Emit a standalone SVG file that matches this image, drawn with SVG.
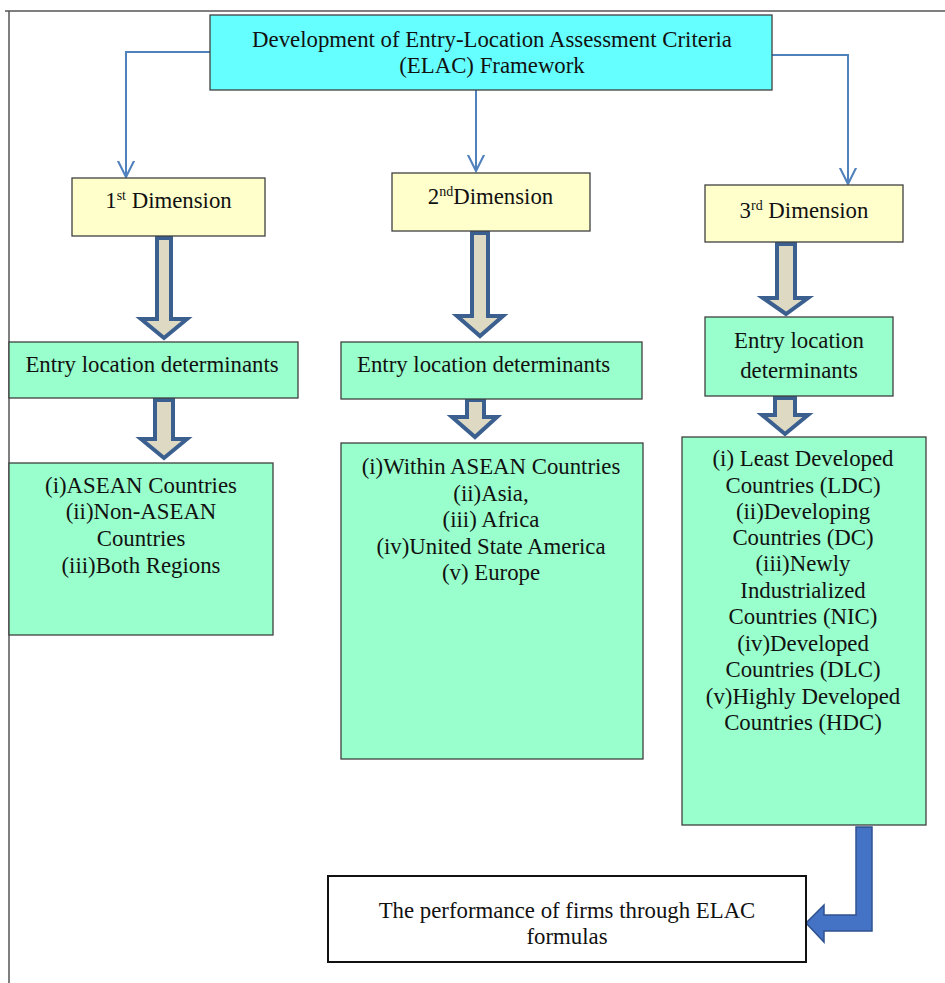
<svg xmlns="http://www.w3.org/2000/svg" width="945" height="983" viewBox="0 0 945 983">
<defs>
<marker id="open" viewBox="0 0 12 12" refX="11" refY="6" markerWidth="18" markerHeight="18" markerUnits="userSpaceOnUse" orient="auto">
<path d="M0,0.5 L11,6 L0,11.5" fill="none" stroke="#4F81BD" stroke-width="1.4"/>
</marker>
</defs>
<style>
text{font-family:"Liberation Serif","Times New Roman",serif;font-size:22.8px;fill:#111;text-anchor:middle}
.box{stroke:#404040;stroke-width:1.3}
.top{fill:#66FFFF}
.dim{fill:#FFFFCC}
.grn{fill:#99FFCC}
.blk{fill:#DDD9C3;stroke:#3B6090;stroke-width:4;stroke-linejoin:miter}
.conn{fill:none;stroke:#4F81BD;stroke-width:2}
.sup{font-size:14px}
</style>
<rect width="945" height="983" fill="#fff"/>
<g id="frame">
<line x1="5" y1="11" x2="945" y2="11" stroke="#555" stroke-width="1.5"/>
<line x1="9" y1="11" x2="9" y2="983" stroke="#555" stroke-width="1.5"/>
</g>
<g id="connectors">
<path class="conn" d="M210,52 H126 V177" marker-end="url(#open)"/>
<path class="conn" d="M476,90 V171" marker-end="url(#open)"/>
<path class="conn" d="M772,55 H848 V184" marker-end="url(#open)"/>
<path class="blk" d="M157,238 H171 V319 H187 L164,338 L141,319 H157 Z"/>
<path class="blk" d="M472,233 H488 V316 H503 L480,336 L457,316 H472 Z"/>
<path class="blk" d="M777,244 H795 V298 H808 L786,314 L763,298 H777 Z"/>
<path class="blk" d="M155,400 H173 V439 H187 L164,458 L141,439 H155 Z"/>
<path class="blk" d="M467,400 H484 V417 H497 L475,437 L452,417 H467 Z"/>
<path class="blk" d="M775,398 H795 V415 H808 L785,434 L762,415 H775 Z"/>
<path d="M856,827 H872 V931 H824 V942 L806,923 L824,905 V915 H856 Z" fill="#4472C4" stroke="#2F528F" stroke-width="1.5"/>
</g>
<g id="title">
<rect class="box top" x="210" y="15" width="562" height="75"/>
<text x="492" y="47">Development of Entry-Location Assessment Criteria</text>
<text x="492" y="73">(ELAC) Framework</text>
</g>
<g id="dim1">
<rect class="box dim" x="72" y="178" width="193" height="58"/>
<text x="168.5" y="208">1<tspan class="sup" dy="-8">st</tspan><tspan dy="8"> Dimension</tspan></text>
</g>
<g id="dim2">
<rect class="box dim" x="392" y="173" width="198" height="58"/>
<text x="490.5" y="204">2<tspan class="sup" dy="-8">nd</tspan><tspan dy="8">Dimension</tspan></text>
</g>
<g id="dim3">
<rect class="box dim" x="705" y="185" width="198" height="57"/>
<text x="804" y="218">3<tspan class="sup" dy="-8">rd</tspan><tspan dy="8"> Dimension</tspan></text>
</g>
<g id="entry1">
<rect class="box grn" x="9" y="342" width="289" height="56"/>
<text x="152" y="372">Entry location determinants</text>
</g>
<g id="entry2">
<rect class="box grn" x="341" y="342" width="301" height="57"/>
<text x="357" y="372" style="text-anchor:start">Entry location determinants</text>
</g>
<g id="entry3">
<rect class="box grn" x="705" y="317" width="188" height="79"/>
<text x="799" y="348">Entry location</text>
<text x="799" y="378">determinants</text>
</g>
<g id="list1">
<rect class="box grn" x="9" y="463" width="264" height="172"/>
<text x="141" y="493">(i)ASEAN Countries</text>
<text x="141" y="519">(ii)Non-ASEAN</text>
<text x="141" y="546">Countries</text>
<text x="141" y="573">(iii)Both Regions</text>
</g>
<g id="list2">
<rect class="box grn" x="341" y="443" width="302" height="316"/>
<text x="491" y="474">(i)Within ASEAN Countries</text>
<text x="491" y="501">(ii)Asia,</text>
<text x="491" y="527">(iii) Africa</text>
<text x="491" y="554">(iv)United State America</text>
<text x="491" y="580">(v) Europe</text>
</g>
<g id="list3">
<rect class="box grn" x="682" y="437" width="244" height="388"/>
<text x="803" y="466">(i) Least Developed</text>
<text x="803" y="493">Countries (LDC)</text>
<text x="803" y="519">(ii)Developing</text>
<text x="803" y="545">Countries (DC)</text>
<text x="803" y="571">(iii)Newly</text>
<text x="803" y="598">Industrialized</text>
<text x="803" y="624">Countries (NIC)</text>
<text x="803" y="651">(iv)Developed</text>
<text x="803" y="677">Countries (DLC)</text>
<text x="803" y="704">(v)Highly Developed</text>
<text x="803" y="730">Countries (HDC)</text>
</g>
<g id="result">
<rect x="328" y="876" width="478" height="86" fill="#fff" stroke="#111" stroke-width="2"/>
<text x="567" y="918">The performance of firms through ELAC</text>
<text x="567" y="944">formulas</text>
</g>
</svg>
